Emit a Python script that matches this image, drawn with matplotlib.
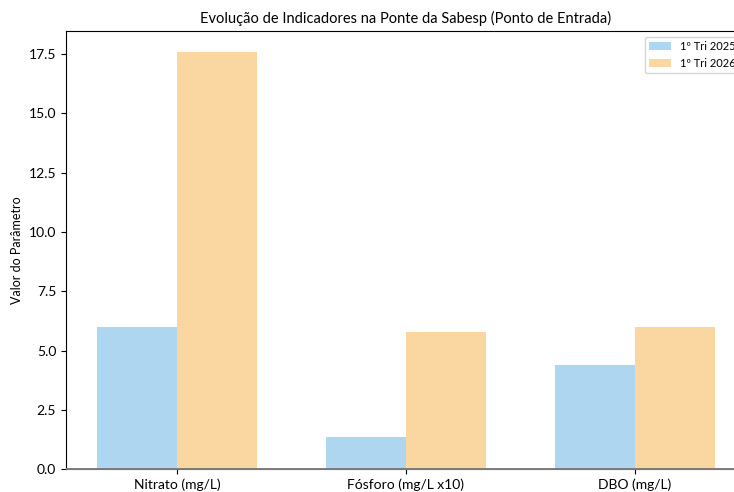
import numpy as np
import matplotlib
matplotlib.use("Agg")
import matplotlib.pyplot as plt

plt.rcParams['font.family'] = ['Lato', 'DejaVu Sans']

# data
categorias = ['Nitrato (mg/L)', 'Fósforo (mg/L x10)', 'DBO (mg/L)']
tri_2025 = [6.0, 1.35, 4.4]
tri_2026 = [17.6, 5.8, 6.0]

x = np.arange(len(categorias))
largura = 0.35

fig = plt.figure(figsize=(7.34, 4.92), dpi=100)
ax = fig.add_axes([0.0899, 0.0467, 0.9264, 0.8903])

ax.bar(x - largura/2, tri_2025, largura, label='1º Tri 2025', color='#AED6F1')
ax.bar(x + largura/2, tri_2026, largura, label='1º Tri 2026', color='#FAD7A0')
ax.axhline(0, color='#777777', linewidth=1.3, zorder=3)
ax.spines['bottom'].set_color('#777777')

ax.set_title('Evolução de Indicadores na Ponte da Sabesp (Ponto de Entrada)', fontsize=10.5)
ax.set_ylabel('Valor do Parâmetro', fontsize=9)
ax.set_xticks(x)
ax.set_xticklabels(categorias, fontsize=10)
ax.tick_params(axis='y', labelsize=10)
ax.legend(loc='upper right', fontsize=8)

fig.savefig('out.png', dpi=100)
